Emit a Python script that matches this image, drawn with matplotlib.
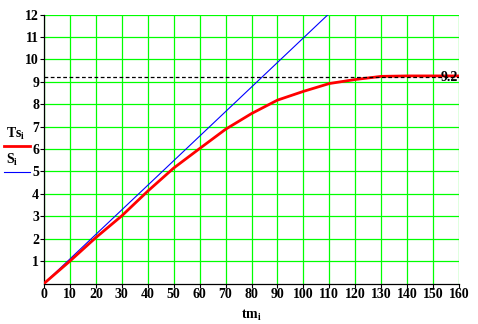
import numpy as np
import matplotlib.pyplot as plt
from matplotlib.lines import Line2D

tm = [0, 10, 20, 30, 40, 50, 60, 70, 80, 90, 100, 110, 120, 130, 140, 150, 160]
Ts = [0, 1.0, 2.05, 3.02, 4.12, 5.15, 6.02, 6.88, 7.58, 8.18, 8.57, 8.92, 9.1,
      9.24, 9.26, 9.26, 9.26]
tm_s = [0, 110]
S = [0, 12.05]
level = 9.2

xticks = list(range(0, 161, 10))
yticks = list(range(1, 13))

W, H = 478, 324
DPI = 100

plt.rcParams.update({
    'font.family': 'Liberation Serif',
    'font.weight': 'bold',
    'font.size': 10,
    'mathtext.fontset': 'custom',
    'mathtext.rm': 'Liberation Serif:bold',
    'mathtext.it': 'Liberation Serif:bold',
    'mathtext.bf': 'Liberation Serif:bold',
})

fig = plt.figure(figsize=(W / DPI, H / DPI), dpi=DPI)
ax = fig.add_axes([44 / W, 1 - 283.5 / H, 415 / W, 269 / H])

ax.set_xlim(0, 160)
ax.set_ylim(0, 12)
ax.set_xticks(xticks)
ax.set_yticks(yticks)
ax.grid(color='#00ff00', linewidth=0.9, zorder=0)
ax.set_axisbelow(True)
for side in ('top', 'right'):
    ax.spines[side].set_visible(False)
for side in ('left', 'bottom'):
    ax.spines[side].set_linewidth(0.9)
ax.tick_params(length=3, width=0.8, direction='out', pad=0.5, labelsize=10)

ax.plot(tm_s, S, color='#0000ff', linewidth=0.8, zorder=3)
ax.plot(tm, Ts, color='#ff0000', linewidth=2.0, zorder=4)
ax.axhline(level, color='black', linewidth=0.9, linestyle=(0, (3, 2)), zorder=5)
ax.text(159.5, level, '9.2', ha='right', va='center', fontsize=10, zorder=6)

ax.set_xlabel(r'$\mathrm{tm}_\mathrm{i}$', fontsize=10, labelpad=5)

# left-side legend labels
fig.text(6 / W, 1 - 134 / H, r'$\mathrm{Ts}_\mathrm{i}$', fontsize=10,
         ha='left', va='center')
fig.add_artist(Line2D([4 / W, 30 / W], [1 - 145.5 / H] * 2,
                      color='#ff0000', linewidth=2.0))
fig.text(6 / W, 1 - 160 / H, r'$\mathrm{S}_\mathrm{i}$', fontsize=10,
         ha='left', va='center')
fig.add_artist(Line2D([4 / W, 30 / W], [1 - 172 / H] * 2,
                      color='#0000ff', linewidth=0.8))

fig.savefig('out.png', dpi=DPI)
